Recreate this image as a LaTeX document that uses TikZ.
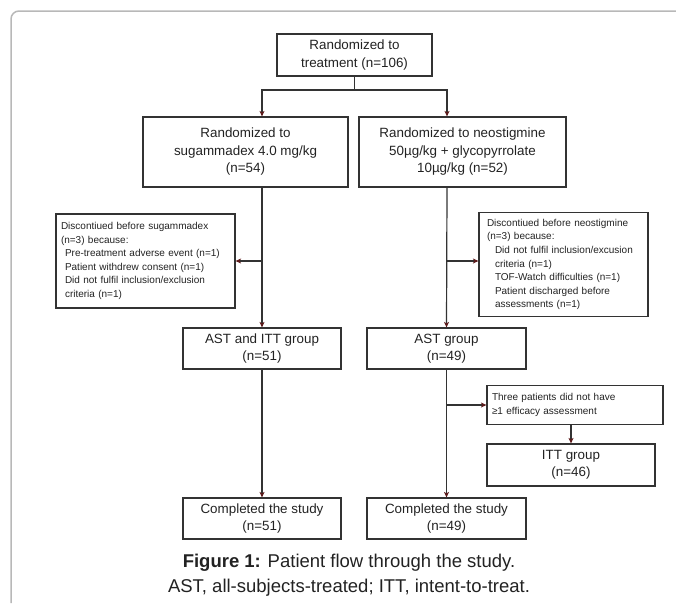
\documentclass[tikz,border=0pt]{standalone}
\usepackage{fontspec}
\setmainfont{Liberation Sans}
\usepackage{tikz}
\usetikzlibrary{positioning, arrows.meta, calc}
\definecolor{rim}{HTML}{B8B8B8}
\definecolor{ink}{HTML}{333333}
\definecolor{tipred}{HTML}{5C1A1A}
\definecolor{txt}{HTML}{222222}

\begin{document}
\begin{tikzpicture}[x=1pt,y=-1pt,
  box/.style={draw=ink,line width=1.2pt,inner sep=0pt,align=center,text=txt,
              font=\fontsize{13.4}{17.5}\selectfont},
  note/.style={draw=ink,line width=1.2pt,inner ysep=0pt,align=left,text=txt,
               font=\fontsize{10}{13.6}\selectfont},
  link/.style={draw=ink,line width=1.2pt},
  arr/.style={link,-{Stealth[length=5.5pt,width=5pt,inset=1.5pt,color=tipred]}}]
  \useasboundingbox (0,0) rectangle (676,603);
  \draw[rim,line width=1.5pt,rounded corners=8pt] (11,603) -- (11,11) -- (676,11);

  % main flow
  \node[box,minimum width=155pt,minimum height=42pt] (rand) at (354.5,55) {Randomized to\\treatment (n=106)};
  \node[box,minimum width=205pt,minimum height=70pt] (sug) at (245.5,152) {Randomized to\\sugammadex 4.0 mg/kg\\(n=54)};
  \node[box,minimum width=207pt,minimum height=70pt] (neo) at (462.5,152) {Randomized to neostigmine\\50µg/kg + glycopyrrolate\\10µg/kg (n=52)};
  \node[box,minimum width=158pt,minimum height=41pt] (astl) at (262,348.5) {AST and ITT group\\(n=51)};
  \node[box,minimum width=159pt,minimum height=41pt] (astr) at (446.5,348.5) {AST group\\(n=49)};
  \node[box,minimum width=168pt,minimum height=42pt] (itt) at (571,465) {ITT group\\(n=46)};
  \node[box,minimum width=158pt,minimum height=41pt] (donel) at (262,518.5) {Completed the study\\(n=51)};
  \node[box,minimum width=159pt,minimum height=41pt] (doner) at (446.5,518.5) {Completed the study\\(n=49)};

  % side notes
  \node[note,inner xsep=5pt,text width=169pt,minimum height=94pt] (discl) at (145.5,261)
    {Discontiued before sugammadex\\(n=3) because:\\
     \hspace*{4pt}Pre-treatment adverse event (n=1)\\
     \hspace*{4pt}Patient withdrew consent (n=1)\\
     \hspace*{4pt}Did not fulfil inclusion/exclusion\\
     \hspace*{4pt}criteria (n=1)};
  \node[note,inner xsep=8pt,text width=153pt,minimum height=104pt] (discr) at (563.5,264.5)
    {Discontiued before neostigmine\\(n=3) because:\\
     \hspace*{8pt}Did not fulfil inclusion/excusion\\
     \hspace*{8pt}criteria (n=1)\\
     \hspace*{8pt}TOF-Watch difficulties (n=1)\\
     \hspace*{8pt}Patient discharged before\\
     \hspace*{8pt}assessments (n=1)};
  \node[note,inner xsep=5pt,text width=166pt,minimum height=39pt] (three) at (575,405)
    {Three patients did not have\\≥1 efficacy assessment};

  % columns
  \coordinate (lcol) at (262,90);
  \coordinate (rcol) at (447,90);
  \coordinate (rbr) at (447,261);
  \draw[arr] (rand.south) |- (lcol) -- (lcol |- sug.north);
  \draw[arr] (rand.south) |- (rcol) -- (rcol |- neo.north);
  \draw[arr] (lcol |- sug.south) -- (astl.north);
  \draw[arr] (rcol |- neo.south) -- (astr.north);
  \draw[arr] (lcol |- discl.east) -- (discl.east);
  \draw[arr] (rbr) -- (rbr -| discr.west);
  \draw[arr] (astl.south) -- (donel.north);
  \draw[arr] (astr.south) -- (doner.north);
  \draw[arr] (rcol |- three.west) -- (three.west);
  \draw[arr] (three.south -| itt.north) -- (itt.north);

  \node[align=center,text=txt,font=\fontsize{18.5}{25}\selectfont] (cap) at (349,575.5)
    {\textbf{Figure 1:} Patient flow through the study.\\AST, all-subjects-treated; ITT, intent-to-treat.};
\end{tikzpicture}
\end{document}
